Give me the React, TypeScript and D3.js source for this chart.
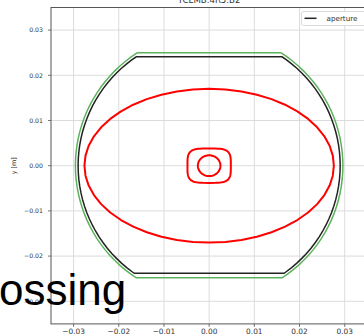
import React from 'react';
import * as d3 from 'd3';

// aperture outlines: circle clipped by flat top/bottom (rect-ellipse)
const outlineNames = ['aperture', 'tolerance'];
const outlineRadius = [0.029, 0.0296];
const outlineTop = [0.0241, 0.025];
const outlineBottom = [-0.0238, -0.0248];

// beam envelopes (red): half widths, half heights, superellipse exponent
const beamHalfX = [0.0276, 0.0048, 0.0025];
const beamHalfY = [0.017, 0.0038, 0.0023];
const beamPower = [2, 4, 2];

const tickValues = [-0.03, -0.02, -0.01, 0.0, 0.01, 0.02, 0.03];
const axisLimits = [-0.035, 0.035];
const titleText = 'TCLMB.4R5.B2';
const legendLabel = 'aperture';
const overlayText = 'ossing';

const W = 364;
const H = 336;
const plot = { left: 51, right: 367.3, top: 7.5, bottom: 323.9 };
const outlineColors = ['#222222', '#5cb35c'];
const sans = '"DejaVu Sans", sans-serif';

export default function App() {
  const x = d3.scaleLinear().domain(axisLimits).range([plot.left, plot.right]);
  const y = d3.scaleLinear().domain(axisLimits).range([plot.bottom, plot.top]);
  const line = d3
    .line<[number, number]>()
    .x((d) => x(d[0]))
    .y((d) => y(d[1]))
    .curve(d3.curveLinearClosed);

  // outline points: arc of radius r clipped at top / bottom
  const outlinePath = (i: number) => {
    const r = outlineRadius[i];
    const pts: [number, number][] = [];
    d3.range(0, 361, 3).forEach((deg) => {
      const a = (deg * Math.PI) / 180;
      const yy = Math.max(outlineBottom[i], Math.min(outlineTop[i], r * Math.sin(a)));
      let xx = r * Math.cos(a);
      if (yy !== r * Math.sin(a)) xx = Math.sign(xx) * Math.sqrt(r * r - yy * yy);
      pts.push([xx, yy]);
    });
    return line(pts) as string;
  };

  const beamPath = (i: number) => {
    const n = beamPower[i];
    const pts: [number, number][] = d3.range(0, 360, i === 0 ? 7.5 : 5).map((deg) => {
      const a = (deg * Math.PI) / 180;
      const c = Math.cos(a);
      const s = Math.sin(a);
      return [
        beamHalfX[i] * Math.sign(c) * Math.pow(Math.abs(c), 2 / n),
        beamHalfY[i] * Math.sign(s) * Math.pow(Math.abs(s), 2 / n),
      ];
    });
    return line(pts) as string;
  };

  const fmt = d3.format('.2f');

  return (
    <svg
      width={W}
      height={H}
      style={{ position: 'absolute', left: 0, top: 0, background: '#fff' }}
    >
      <rect width={W} height={H} fill="#fff" />
      {/* grid */}
      {tickValues.map((t) => (
        <g key={'g' + t}>
          <line x1={x(t)} x2={x(t)} y1={plot.top} y2={plot.bottom} stroke="#d8d8d8" strokeWidth={0.9} />
          <line x1={plot.left} x2={plot.right} y1={y(t)} y2={y(t)} stroke="#d8d8d8" strokeWidth={0.9} />
        </g>
      ))}
      {/* outlines */}
      {outlineNames.map((n, i) => (
        <path key={n} d={outlinePath(i)} fill="none" stroke={outlineColors[i]} strokeWidth={1.5} />
      ))}
      {/* beams */}
      {beamHalfX.map((_, i) => (
        <path key={'b' + i} d={beamPath(i)} fill="none" stroke="#ff0000" strokeWidth={2} strokeLinejoin="round" />
      ))}
      {/* spines */}
      <rect
        x={plot.left}
        y={plot.top}
        width={plot.right - plot.left}
        height={plot.bottom - plot.top}
        fill="none"
        stroke="#555"
        strokeWidth={1}
      />
      {/* x ticks */}
      {tickValues.map((t) => (
        <g key={'xt' + t}>
          <line x1={x(t)} x2={x(t)} y1={plot.bottom} y2={plot.bottom + 3} stroke="#555" strokeWidth={0.8} />
          <text x={x(t)} y={334} textAnchor="middle" fontFamily={sans} fontSize={7.4} fill="#333">
            {fmt(t)}
          </text>
        </g>
      ))}
      {/* y ticks */}
      {tickValues.map((t) => (
        <g key={'yt' + t}>
          <line x1={plot.left - 3} x2={plot.left} y1={y(t)} y2={y(t)} stroke="#555" strokeWidth={0.8} />
          <text x={plot.left - 8} y={y(t) + 2.3} textAnchor="end" fontFamily={sans} fontSize={6.2} fill="#333">
            {fmt(t)}
          </text>
        </g>
      ))}
      <text
        transform={`translate(16,${y(0)}) rotate(-90)`}
        textAnchor="middle"
        fontFamily={sans}
        fontSize={6.4}
        fill="#333"
      >
        y [m]
      </text>
      {/* title */}
      <text x={(plot.left + plot.right) / 2} y={3} textAnchor="middle" fontFamily={sans} fontSize={8.6} fill="#333">
        {titleText}
      </text>
      {/* legend */}
      <rect x={301.5} y={11.5} width={70} height={14} rx={2} fill="#fff" stroke="#d0d0d0" strokeWidth={0.8} />
      <line x1={304.5} x2={316.5} y1={18.3} y2={18.3} stroke={outlineColors[0]} strokeWidth={1.5} />
      <text x={326.5} y={20.8} fontFamily={sans} fontSize={7.2} fill="#333">
        {legendLabel}
      </text>
      {/* overlay text */}
      <text x={-1} y={305} fontFamily='"Liberation Sans", Arial, sans-serif' fontSize={44} fill="#000">
        {overlayText}
      </text>
    </svg>
  );
}
